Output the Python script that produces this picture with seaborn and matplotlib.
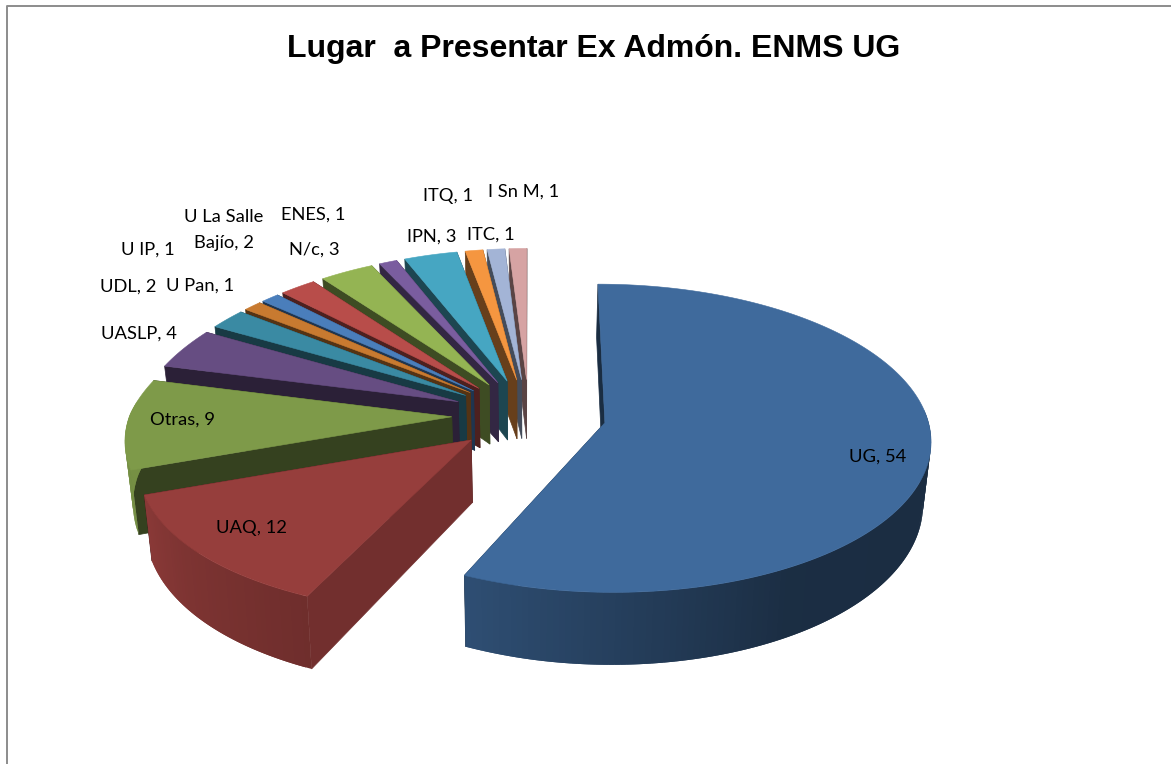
import matplotlib

matplotlib.use("Agg")
import matplotlib.pyplot as plt
import numpy as np
import seaborn as sns

sns.set_theme(style="white")

labels = ["UG", "UAQ", "Otras", "UASLP", "UDL", "U IP", "U Pan", "U La Salle\nBajío", "N/c", "ENES",
          "IPN", "ITQ", "ITC", "I Sn M"]
values = [54, 12, 9, 4, 2, 1, 1, 2, 3, 1, 3, 1, 1, 1]
top_colors = ["#3f6a9c", "#963e3c", "#7e9a49", "#664d82", "#3a8aa3", "#c87a30", "#4a7ebb",
              "#b84d4a", "#94b453", "#7a5d9f", "#46a6c2", "#f59640", "#a3b4d6", "#d6a3a3"]
# label centres in pixels, same order as labels
label_xy = [(878, 457), (252, 528), (183, 420), (139, 334), (128, 287), (148, 250), (200, 286),
            (224, 230), (314, 250), (313, 215), (432, 237), (448, 196), (491, 235), (524, 192)]

# projection of the tilted disc, in pixels
CX, CY = 529, 415
RX, RY = 322, 151
PERSP = 0.10
EXPLODE = 0.24
DEPTH = 61
SHADE_AT = [0, 100, 150, 180, 205, 230, 250, 285, 360]
SHADE = [0.42, 0.42, 0.43, 0.60, 0.74, 0.83, 0.92, 0.95, 0.90]


def project(x, y, drop=False):
    """Disc coordinates to pixels; drop=True gives the bottom rim."""
    w = 1 + PERSP * y
    if x < 0:
        # left side converges harder in the original
        k = 0.16 if y > 0 else 0.08 + 0.05 * min(1, -x / 0.6)
        wx = 1 + k * y
    else:
        wx = w
    px = CX + RX * x / wx
    py = CY - RY * y / w
    if drop:
        px = CX + (px - CX) * 0.98
        py = py + DEPTH * w ** -1.55
    return px, py


def darker(color, f):
    return tuple(c * f for c in matplotlib.colors.to_rgb(color))


def draw_slice(ax, a0, a1, color):
    mid = np.radians((a0 + a1) / 2)
    ox, oy = EXPLODE * np.sin(mid), EXPLODE * np.cos(mid)
    th = np.linspace(a0, a1, max(int(a1 - a0), 2) + 1)
    xs = ox + np.sin(np.radians(th))
    ys = oy + np.cos(np.radians(th))

    # cut faces, the start one last because it is the one in front
    edge_f = 0.76 if 100 < a0 < 240 else 0.42
    for i in (-1, 0):
        f = edge_f if i == 0 else 0.42
        pts = [project(ox, oy), project(xs[i], ys[i]),
               project(xs[i], ys[i], True), project(ox, oy, True)]
        ax.fill(*zip(*pts), color=darker(color, f), lw=0.5, zorder=2)

    # outer wall, strips overlap the next one so no seams show
    for i in range(len(th) - 1):
        mid_th = (th[i] + th[i + 1]) / 2
        if not 85 < mid_th < 275:
            continue
        j = min(i + 2, len(th) - 1)
        pts = [project(xs[i], ys[i]), project(xs[j], ys[j]),
               project(xs[j], ys[j], True), project(xs[i], ys[i], True)]
        f = np.interp(mid_th, SHADE_AT, SHADE)
        ax.fill(*zip(*pts), color=darker(color, f), lw=0, zorder=2)

    # top face
    top = [project(ox, oy)] + [project(x, y) for x, y in zip(xs, ys)]
    ax.fill(*zip(*top), color=color, lw=0.4, zorder=2)


fig = plt.figure(figsize=(11.71, 7.64), dpi=100)
ax = fig.add_axes([0, 0, 1, 1])
ax.set_xlim(0, 1171)
ax.set_ylim(764, 0)
ax.axis("off")

# frame only shows on the left and top
ax.plot([7, 7, 1171], [764, 6, 6], color="#8c8c8c", lw=1.4, zorder=1)

edges = np.cumsum([0] + values) / sum(values) * 360
order = sorted(range(len(values)), key=lambda i: -np.cos(np.radians((edges[i] + edges[i + 1]) / 2)))
for i in order:
    draw_slice(ax, edges[i], edges[i + 1], top_colors[i])

for name, val, (x, y) in zip(labels, values, label_xy):
    ax.text(x, y, f"{name}, {val}", ha="center", va="center", family="Lato", fontsize=13.2,
            color="black", linespacing=1.7, zorder=5)

ax.text(594, 49, "Lugar  a Presentar Ex Admón. ENMS UG", ha="center", va="center",
        family="Liberation Sans", fontweight="bold", fontsize=23, color="black", zorder=5)

fig.savefig("out.png", dpi=100)
plt.close(fig)
